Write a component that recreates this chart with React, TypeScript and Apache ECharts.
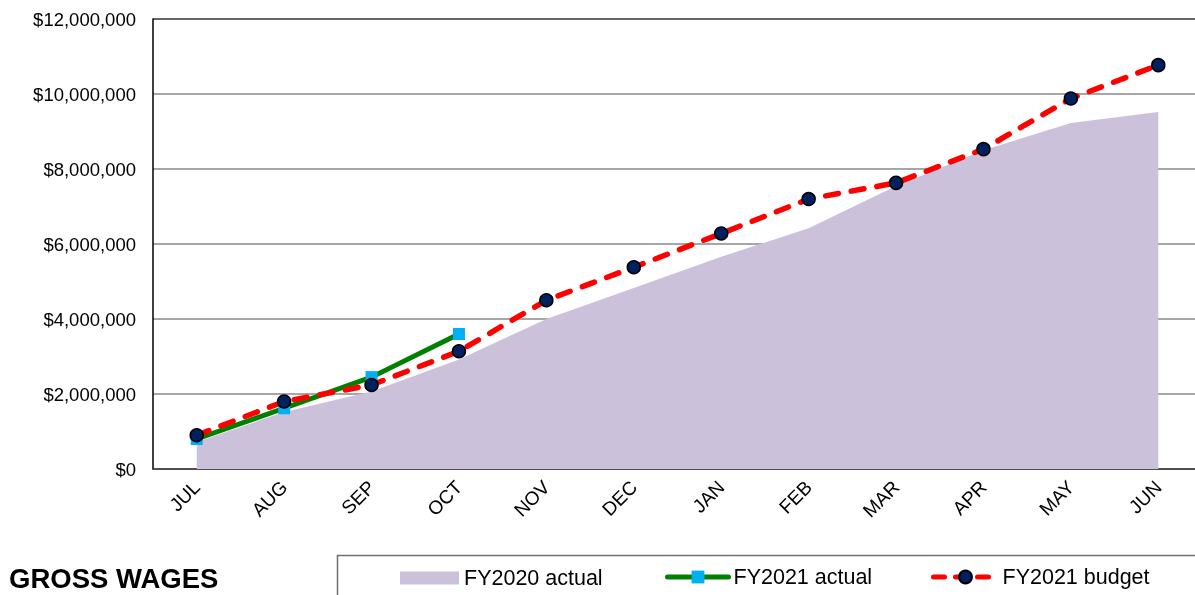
import React, { useEffect, useRef } from "react";
import * as echarts from "echarts";

const months = ["JUL", "AUG", "SEP", "OCT", "NOV", "DEC", "JAN", "FEB", "MAR", "APR", "MAY", "JUN"];
const fy2020Actual = [720000, 1520000, 2070000, 2920000, 4000000, 4830000, 5660000, 6420000, 7550000, 8500000, 9230000, 9520000];
const fy2021Actual = [800000, 1620000, 2450000, 3600000];
const fy2021Budget = [900000, 1800000, 2240000, 3140000, 4500000, 5380000, 6280000, 7200000, 7630000, 8530000, 9880000, 10770000];
const yTicks = { min: 0, max: 12000000, interval: 2000000 };
const titleText = "GROSS WAGES";

const FONT = "'Liberation Sans', Arial, sans-serif";
const AREA = "#CCC1DA";

export default function App() {
  const ref = useRef<HTMLDivElement>(null);
  useEffect(() => {
    if (!ref.current) return;
    const chart = echarts.init(ref.current, undefined, { renderer: "svg" });
    const legendText = { fontFamily: FONT, fontSize: 21.5, color: "#000" };
    chart.setOption({
      animation: false,
      textStyle: { fontFamily: FONT },
      title: {
        text: titleText,
        left: 9,
        top: 564,
        padding: 0,
        textStyle: { fontFamily: FONT, fontSize: 27.5, fontWeight: "bold", color: "#000" },
      },
      grid: { left: 153, top: 19, bottom: 126, right: 0, containLabel: false },
      legend: [
        {
          left: 400,
          top: 567,
          padding: 0,
          itemWidth: 59,
          itemHeight: 13,
          itemGap: 5,
          textStyle: legendText,
          data: [{ name: "FY2020 actual", icon: "rect", itemStyle: { color: AREA } }],
        },
        {
          left: 665,
          top: 566,
          padding: 0,
          itemWidth: 61,
          itemHeight: 16,
          itemGap: 5,
          textStyle: legendText,
          data: [{ name: "FY2021 actual", lineStyle: { width: 5, color: "#008000", cap: "round" } }],
        },
        {
          left: 931,
          top: 566,
          padding: 0,
          itemWidth: 64,
          itemHeight: 16,
          itemGap: 5,
          textStyle: legendText,
          data: [{ name: "FY2021 budget", lineStyle: { width: 5, color: "#FF0000", type: [11, 11], cap: "round" } }],
        },
      ],
      graphic: [
        {
          type: "rect",
          shape: { x: 337.5, y: 555.5, width: 900, height: 100 },
          style: { fill: "none", stroke: "#707070", lineWidth: 1.5 },
          silent: true,
        },
      ],
      xAxis: {
        type: "category",
        data: months,
        boundaryGap: true,
        axisLine: { lineStyle: { color: "#333", width: 1.5 } },
        axisTick: { inside: true, length: 6, lineStyle: { color: "#333" } },
        axisLabel: { rotate: 45, interval: 0, fontSize: 19, color: "#000", margin: 15, fontFamily: FONT },
        splitLine: { show: false },
      },
      yAxis: {
        type: "value",
        min: yTicks.min,
        max: yTicks.max,
        interval: yTicks.interval,
        axisLine: { show: true, lineStyle: { color: "#000", width: 1.5 } },
        axisTick: { show: false },
        axisLabel: {
          fontSize: 18.5,
          color: "#000",
          margin: 17,
          fontFamily: FONT,
          formatter: (v: number) => "$" + v.toLocaleString("en-US"),
        },
        splitLine: {
          show: true,
          lineStyle: { color: ["#888", "#888", "#888", "#888", "#888", "#888", "#333"], width: 1.5 },
        },
      },
      series: [
        {
          name: "FY2020 actual",
          type: "line",
          data: fy2020Actual,
          showSymbol: false,
          symbol: "none",
          lineStyle: { width: 0, color: AREA },
          itemStyle: { color: AREA },
          areaStyle: { color: AREA, opacity: 1 },
          z: 1,
        },
        {
          name: "FY2021 actual",
          type: "line",
          data: fy2021Actual,
          symbol: "rect",
          symbolSize: 12,
          lineStyle: { width: 5, color: "#008000" },
          itemStyle: { color: "#00B0F0", borderWidth: 0 },
          z: 3,
        },
        {
          name: "FY2021 budget",
          type: "line",
          data: fy2021Budget,
          symbol: "circle",
          symbolSize: 13,
          lineStyle: { width: 5.5, color: "#FF0000", type: [13, 13], cap: "round" },
          itemStyle: { color: "#002060", borderColor: "#000", borderWidth: 1.5 },
          z: 4,
        },
      ],
    });
    return () => chart.dispose();
  }, []);
  return <div ref={ref} style={{ position: "fixed", left: 0, top: 0, width: 1202, height: 595 }} />;
}
